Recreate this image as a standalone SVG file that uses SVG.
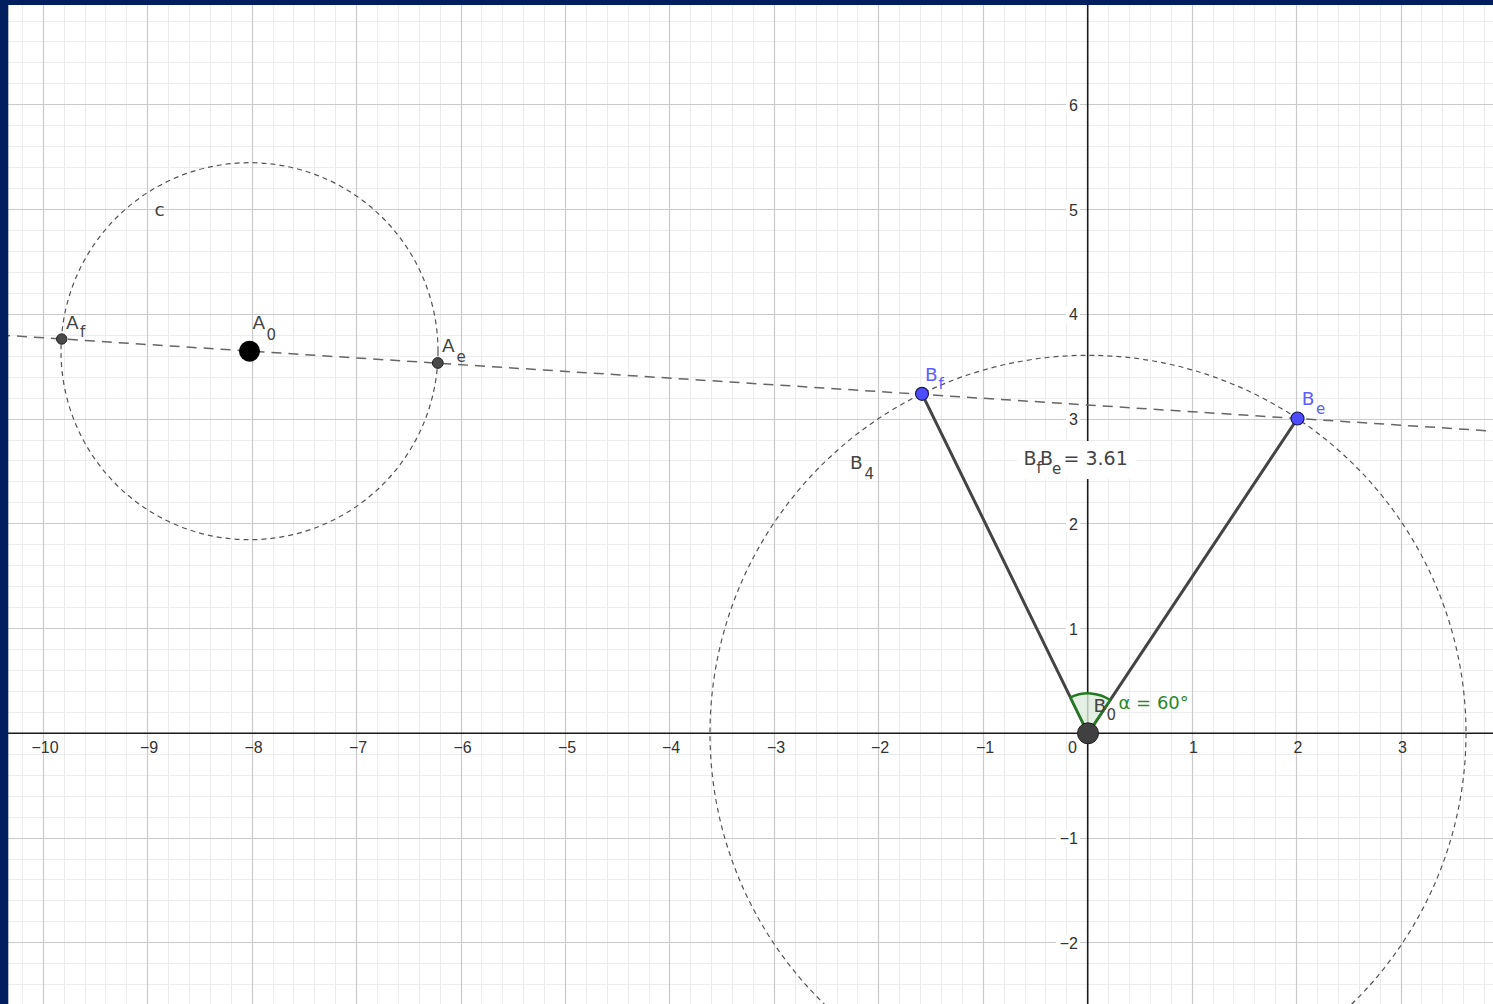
<svg xmlns="http://www.w3.org/2000/svg" width="1493" height="1004" viewBox="0 0 1493 1004">
<style>
.minor{stroke:#ececec;stroke-width:1;fill:none}
.major{stroke:#cacaca;stroke-width:1.2;fill:none}
.axis{stroke:#1a1a1a;stroke-width:1.6;fill:none}
.tick{font-family:'Liberation Sans',Arial,sans-serif;font-size:16px;fill:#333}
.lbl{font-family:'DejaVu Sans',Verdana,sans-serif;font-size:18.5px;fill:#444}
.big{font-size:19px}
.alpha{font-size:18px}
.sub{font-size:15px}
.blue{fill:#5e5eff}
.green{fill:#2a882a}
.circ{stroke:#555;stroke-width:1.2;fill:none;stroke-dasharray:5 4}
.dline{stroke:#666;stroke-width:1.5;fill:none;stroke-dasharray:10 7}
.seg{stroke:#444;stroke-width:3;fill:none;stroke-linecap:round}
.bg{fill:#fff}
</style>
<rect x="0" y="0" width="1493" height="1004" fill="#fff"/>
<g id="grid">
<path class="minor" d="M22.5 0v1004M64.5 0v1004M85.5 0v1004M105.5 0v1004M126.5 0v1004M168.5 0v1004M189.5 0v1004M210.5 0v1004M231.5 0v1004M273.5 0v1004M293.5 0v1004M314.5 0v1004M335.5 0v1004M377.5 0v1004M398.5 0v1004M419.5 0v1004M440.5 0v1004M481.5 0v1004M502.5 0v1004M523.5 0v1004M544.5 0v1004M586.5 0v1004M607.5 0v1004M628.5 0v1004M649.5 0v1004M690.5 0v1004M711.5 0v1004M732.5 0v1004M753.5 0v1004M795.5 0v1004M816.5 0v1004M837.5 0v1004M857.5 0v1004M899.5 0v1004M920.5 0v1004M941.5 0v1004M962.5 0v1004M1004.5 0v1004M1025.5 0v1004M1045.5 0v1004M1066.5 0v1004M1108.5 0v1004M1129.5 0v1004M1150.5 0v1004M1171.5 0v1004M1213.5 0v1004M1233.5 0v1004M1254.5 0v1004M1275.5 0v1004M1317.5 0v1004M1338.5 0v1004M1359.5 0v1004M1380.5 0v1004M1421.5 0v1004M1442.5 0v1004M1463.5 0v1004M1484.5 0v1004"/>
<path class="minor" d="M0 21.5h1493M0 41.5h1493M0 62.5h1493M0 83.5h1493M0 125.5h1493M0 146.5h1493M0 167.5h1493M0 188.5h1493M0 230.5h1493M0 251.5h1493M0 272.5h1493M0 293.5h1493M0 335.5h1493M0 356.5h1493M0 377.5h1493M0 398.5h1493M0 440.5h1493M0 460.5h1493M0 481.5h1493M0 502.5h1493M0 544.5h1493M0 565.5h1493M0 586.5h1493M0 607.5h1493M0 649.5h1493M0 670.5h1493M0 691.5h1493M0 712.5h1493M0 754.5h1493M0 775.5h1493M0 796.5h1493M0 817.5h1493M0 859.5h1493M0 879.5h1493M0 900.5h1493M0 921.5h1493M0 963.5h1493M0 984.5h1493"/>
<path class="major" d="M43.5 0v1004M147.5 0v1004M252.5 0v1004M356.5 0v1004M461.5 0v1004M565.5 0v1004M669.5 0v1004M774.5 0v1004M878.5 0v1004M983.5 0v1004M1192.5 0v1004M1296.5 0v1004M1401.5 0v1004"/>
<path class="major" d="M0 104.5h1493M0 209.5h1493M0 314.5h1493M0 419.5h1493M0 523.5h1493M0 628.5h1493M0 838.5h1493M0 942.5h1493"/>
</g>
<g id="axes">
<path class="axis" d="M0 733.3H1493M1087.7 0V1004"/>
<g id="x-labels" class="tick" text-anchor="middle">
<text x="45" y="753.3">−10</text>
<text x="149" y="753.3">−9</text>
<text x="253.5" y="753.3">−8</text>
<text x="358" y="753.3">−7</text>
<text x="462.5" y="753.3">−6</text>
<text x="567" y="753.3">−5</text>
<text x="671" y="753.3">−4</text>
<text x="776" y="753.3">−3</text>
<text x="880" y="753.3">−2</text>
<text x="985" y="753.3">−1</text>
<text x="1193.5" y="753.3">1</text>
<text x="1298" y="753.3">2</text>
<text x="1402.5" y="753.3">3</text>
</g>
<g id="y-labels" class="tick" text-anchor="end">
<rect class="bg" x="1066" y="96" width="14" height="17"/>
<rect class="bg" x="1066" y="201" width="14" height="17"/>
<rect class="bg" x="1066" y="306" width="14" height="17"/>
<rect class="bg" x="1066" y="411" width="14" height="17"/>
<rect class="bg" x="1066" y="515" width="14" height="17"/>
<rect class="bg" x="1066" y="620" width="14" height="17"/>
<rect class="bg" x="1056" y="830" width="24" height="17"/>
<rect class="bg" x="1056" y="934" width="24" height="17"/>
<text x="1078" y="110.8">6</text>
<text x="1078" y="215.5">5</text>
<text x="1078" y="320.3">4</text>
<text x="1078" y="425">3</text>
<text x="1078" y="529.8">2</text>
<text x="1078" y="634.5">1</text>
<text x="1077" y="752.7">0</text>
<text x="1078" y="844">−1</text>
<text x="1078" y="948.8">−2</text>
</g>
</g>
<g id="connectors">
<circle id="circle-c" class="circ" cx="249.5" cy="351.2" r="188.5"/>
<circle id="circle-B4" class="circ" cx="1088" cy="733.3" r="378"/>
<line id="line-AB" class="dline" x1="0" y1="335" x2="1493" y2="431.1"/>
<line id="seg-B0Bf" class="seg" x1="1088" y1="733.3" x2="922" y2="393.8"/>
<line id="seg-B0Be" class="seg" x1="1088" y1="733.3" x2="1297.5" y2="418.5"/>
</g>
<g id="angle-alpha">
<path d="M1088 733.3L1110.2 700A40 40 0 0 0 1070.4 697.4Z" fill="#dcecdc" fill-opacity="0.8" stroke="#237a23" stroke-width="2.5" stroke-linejoin="round"/>
<text class="lbl green alpha" x="1118.5" y="709">α = 60°</text>
</g>
<g id="label-c"><text class="lbl" x="154.5" y="216">c</text></g>
<g id="label-B4"><text class="lbl" x="850" y="469.3">B<tspan class="sub" x="864.5" y="479.3">4</tspan></text></g>
<g id="label-BfBe">
<rect class="bg" x="1017" y="441" width="120" height="38"/>
<text class="lbl big" x="1023.5" y="464.5">B<tspan class="sub" x="1036.5" y="472.7">f</tspan><tspan x="1040" y="464.5">B</tspan><tspan class="sub" x="1052" y="474.3">e </tspan><tspan x="1063.5" y="464.5">= 3.61</tspan></text>
</g>
<g id="node-Af">
<circle cx="61.7" cy="339" r="5.2" fill="#4a4a4a" stroke="#222" stroke-width="1"/>
<text class="lbl" x="66" y="328.5">A<tspan class="sub" x="80" y="337.3">f</tspan></text>
</g>
<g id="node-A0">
<circle cx="249.5" cy="351.2" r="10.5" fill="#000"/>
<text class="lbl" x="252.5" y="329.3">A<tspan class="sub" x="266.5" y="339.5">0</tspan></text>
</g>
<g id="node-Ae">
<circle cx="437.8" cy="363" r="5.4" fill="#4a4a4a" stroke="#222" stroke-width="1"/>
<text class="lbl" x="442" y="352.3">A<tspan class="sub" x="456.5" y="361.7">e</tspan></text>
</g>
<g id="node-Bf">
<circle cx="922" cy="393.8" r="6.5" fill="#4d4dff" stroke="#1a1a55" stroke-width="1.2"/>
<text class="lbl blue" x="925" y="380.7">B<tspan class="sub" x="938.5" y="388.5">f</tspan></text>
</g>
<g id="node-Be">
<circle cx="1297.5" cy="418.5" r="6.5" fill="#4d4dff" stroke="#1a1a55" stroke-width="1.2"/>
<text class="lbl blue" x="1301.7" y="405">B<tspan class="sub" x="1316" y="414.3">e</tspan></text>
</g>
<g id="node-B0">
<circle cx="1088" cy="733.3" r="10.5" fill="#404040" stroke="#1a1a1a" stroke-width="1"/>
<text class="lbl" x="1093.5" y="711.7">B<tspan class="sub" x="1106.5" y="720">0</tspan></text>
</g>
<g id="frame">
<rect x="0" y="0" width="8.3" height="1004" fill="#011f5e"/>
<rect x="0" y="0" width="1493" height="5" fill="#011f5e"/>
</g>
</svg>
